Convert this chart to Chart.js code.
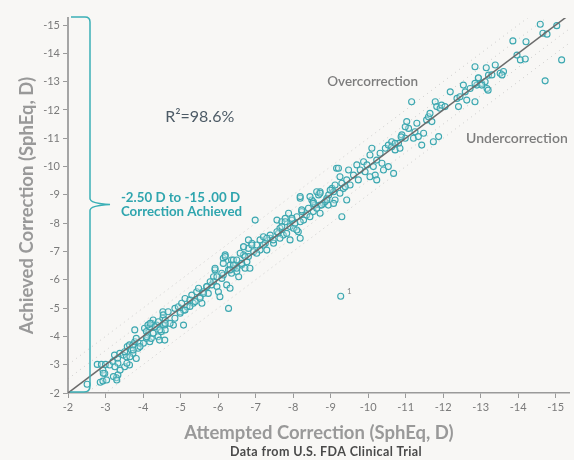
<!DOCTYPE html>
<html>
<head>
<meta charset="utf-8">
<script src="https://cdn.jsdelivr.net/npm/chart.js@4/dist/chart.umd.min.js"></script>
<style>
  html, body { margin: 0; padding: 0; background: #f8f7f5; }
  #wrap { width: 574px; height: 460px; position: relative; }
</style>
</head>
<body>
<div id="wrap"><canvas id="c" width="574" height="460"></canvas></div>
<script>
// ---- Data ----
const attempted = [
-2.51,-2.78,-2.89,-3.00,-2.93,-2.98,-2.86,-2.93,-3.33,-3.29,-3.11,-3.20,-3.32,-3.33,-3.24,-3.38,-3.47,-3.56,-3.51,-3.58,-3.64,-3.69,-3.73,-3.78,-3.82,-3.78,-3.73,-3.82,-3.64,-3.51,-3.87,-3.91,-4.04,-4.09,-4.13,-4.18,-4.09,-4.18,-4.22,-4.27,-4.13,-4.40,-4.44,-4.58,-4.49,-4.36,-4.58,-4.53,-4.53,
-4.23,-4.32,-4.27,-4.41,-4.54,-4.59,-4.67,-4.54,-4.81,-5.08,-4.59,-4.85,-4.94,-4.99,-5.03,-5.08,-5.12,-5.17,-5.25,-5.30,-5.34,-5.43,-5.48,-5.52,-5.57,-5.61,-5.70,-5.74,-5.83,-5.88,-5.92,-5.88,-5.97,-6.01,-6.05,-6.28,-6.10,-6.14,-6.23,-6.32,-6.28,-6.36,-6.41,-6.45,-6.50,-6.55,-6.63,-6.72,-6.77,-6.14,-6.19,-6.36,-6.68,-6.81,
-6.32,-6.41,-6.50,-6.63,-6.72,-6.68,-6.81,-6.90,-6.95,-6.99,-7.03,-7.12,-7.21,-7.26,-7.30,-7.39,-7.48,-7.57,-7.61,-7.65,-7.70,-7.74,-7.79,-7.88,-7.92,-7.97,-8.01,-8.05,-8.10,-8.14,-8.19,-8.23,-8.19,-8.28,-8.36,-8.41,-8.50,-8.54,-8.59,-8.68,-8.72,-8.72,-8.81,-8.90,-8.94,-6.85,
-8.45,-8.54,-8.63,-8.72,-8.95,-9.04,-9.08,-9.12,-9.16,-9.25,-9.30,-9.34,-9.43,-9.48,-9.52,-9.61,-9.70,-9.74,-9.79,-9.88,-9.92,-9.97,-10.05,-10.10,-10.14,-10.19,-10.23,-10.32,-10.37,-10.41,-10.46,-10.54,-10.63,-10.68,-10.72,-10.81,-10.85,-10.90,-10.99,-11.08,-10.54,-10.23,-10.05,-8.85,
-10.63,-10.72,-10.88,-10.99,-11.03,-11.16,-11.21,-11.25,-11.30,-11.34,-11.43,-11.48,-11.56,-11.61,-11.65,-11.70,-11.74,-11.79,-11.83,-11.88,-11.92,-11.96,-12.05,-12.19,-12.37,-12.41,-12.45,-12.54,-12.59,-12.63,-12.72,-12.85,-12.90,-12.94,-13.03,-13.12,-13.17,-13.21,-12.85,
-12.85,-12.94,-13.03,-13.15,-13.20,-13.30,-13.39,-13.52,-13.61,-13.57,-13.86,-13.97,-14.06,-14.19,-14.21,-14.59,-14.66,-14.77,-14.72,-15.16,-15.03,
-9.27,
-9.21,-9.12,-8.99,-9.25,-9.39,-9.43,-9.30,-9.08,-8.90,-8.72,-8.76,-8.63,-8.54,-8.45,-8.19,-8.23,-8.19,-8.10,-7.97,-7.92,-7.83,-7.79,-7.70,-7.57,-7.65,-7.47,-7.39,-7.30,-7.21,-7.12,-7.03,-6.90,-6.81,-6.68,-6.59,-6.50,-6.41,-6.32,-6.19,-6.14,-6.10,-5.97,-5.92,-5.79,-5.70,-5.61,-5.52,-5.39,-5.25,-5.12,-4.99,-4.85,-4.72,-4.59,-4.45,-4.27,-4.19,-4.10,-4.01,-3.92,-3.74,-3.65,-3.57,-3.39,-3.25,-3.21,-3.03,-2.94,-3.30
];
const achieved = [
-2.31,-3.01,-3.01,-3.01,-2.81,-2.69,-2.38,-2.42,-2.64,-2.54,-2.99,-3.11,-3.22,-3.05,-3.34,-3.40,-3.34,-3.28,-3.46,-3.64,-3.70,-3.52,-3.70,-3.81,-3.93,-4.23,-3.40,-3.22,-2.99,-2.93,-3.58,-3.76,-4.29,-4.17,-4.05,-4.34,-3.93,-3.81,-3.93,-4.11,-4.40,-3.99,-3.87,-3.87,-4.17,-4.40,-4.40,-4.64,-4.87,
-4.46,-4.34,-4.58,-4.52,-4.76,-4.58,-4.87,-4.40,-4.40,-4.40,-4.23,-4.99,-5.05,-4.87,-5.17,-4.93,-5.34,-5.05,-5.29,-5.46,-5.17,-5.58,-5.70,-5.40,-5.17,-5.58,-5.76,-5.52,-5.82,-6.11,-6.35,-5.93,-5.76,-5.58,-5.40,-4.99,-6.05,-6.17,-5.82,-5.70,-6.35,-6.23,-6.41,-6.52,-6.29,-6.11,-6.52,-6.41,-6.64,-6.76,-6.88,-6.70,-6.88,-6.82,
-6.52,-6.70,-6.41,-6.58,-6.82,-7.17,-7.11,-7.29,-6.99,-8.11,-7.23,-7.41,-7.52,-7.29,-7.05,-7.47,-7.29,-8.11,-7.64,-7.82,-8.05,-7.58,-8.17,-8.35,-7.88,-8.11,-7.82,-8.00,-8.23,-7.70,-7.47,-8.41,-8.88,-8.11,-8.29,-8.53,-8.82,-8.41,-8.64,-9.00,-9.11,-8.35,-8.70,-8.88,-8.64,-6.41,
-8.94,-8.76,-9.11,-8.64,-9.00,-9.23,-9.11,-8.82,-9.94,-9.64,-9.41,-9.23,-9.53,-9.88,-9.35,-9.70,-10.06,-9.53,-9.88,-10.17,-9.82,-10.06,-10.41,-10.65,-10.00,-9.70,-10.23,-10.47,-10.12,-9.88,-10.65,-10.76,-10.88,-9.76,-10.59,-10.82,-10.65,-11.12,-11.00,-11.35,-10.00,-9.53,-9.64,-8.76,
-10.70,-10.82,-11.05,-11.41,-11.59,-12.29,-11.00,-11.23,-11.53,-11.06,-10.76,-11.18,-11.65,-11.76,-11.88,-11.59,-10.88,-12.29,-12.12,-11.06,-12.06,-12.17,-12.12,-12.64,-12.41,-12.12,-12.47,-12.88,-12.64,-12.35,-12.76,-12.29,-12.88,-13.12,-12.94,-13.00,-12.76,-13.23,-13.53,
-12.94,-13.14,-12.88,-13.49,-12.70,-13.24,-13.59,-13.30,-13.36,-13.24,-14.44,-13.94,-13.77,-13.80,-14.41,-15.03,-14.71,-14.68,-13.03,-13.77,-14.98,
-5.42,
-9.94,-9.35,-9.17,-9.06,-9.29,-8.82,-8.23,-8.70,-8.82,-9.06,-8.64,-8.53,-8.70,-8.23,-8.94,-8.47,-8.05,-7.76,-8.17,-7.41,-7.64,-8.05,-7.88,-7.70,-7.47,-7.41,-7.58,-7.47,-7.23,-7.05,-6.94,-7.23,-7.41,-7.17,-6.94,-6.70,-6.52,-6.35,-6.82,-6.58,-6.23,-6.11,-6.41,-5.93,-5.76,-5.52,-5.35,-5.23,-5.06,-4.93,-4.82,-4.64,-4.46,-4.46,-4.23,-4.11,-4.46,-3.99,-3.76,-3.64,-3.52,-3.28,-3.05,-2.81,-2.93,-2.58,-2.46,-2.70,-2.46
];
const xTickValues = [-2,-3,-4,-5,-6,-7,-8,-9,-10,-11,-12,-13,-14,-15];
const yTickValues = [-2,-3,-4,-5,-6,-7,-8,-9,-10,-11,-12,-13,-14,-15];
const idealLine = [[-2,-2],[-15.6,-15.6]];          // attempted = achieved
const bandOffsets = [-1, -0.5, 0.5, 1];              // dotted guide lines (D)
const rSquaredText = 'R²=98.6%';

// ---- Build datasets ----
const points = attempted.map((x, i) => ({x, y: achieved[i]}));
const lineData = idealLine.map(p => ({x: p[0], y: p[1]}));
const bandSets = bandOffsets.map(o => ({
  type: 'line',
  data: idealLine.map(p => ({x: p[0], y: p[1] + o})),
  borderColor: 'rgba(150,150,150,0.45)',
  borderWidth: 1,
  borderDash: [1, 4],
  pointRadius: 0,
  fill: false,
  order: 3
}));

const FONT = 'Lato, "Open Sans", sans-serif';

const bgPlugin = {
  id: 'bg',
  beforeDraw(chart) {
    const ctx = chart.ctx;
    ctx.save();
    ctx.fillStyle = '#f8f7f5';
    ctx.fillRect(0, 0, chart.width, chart.height);
    ctx.restore();
  }
};

const annotPlugin = {
  id: 'annot',
  afterDraw(chart) {
    const ctx = chart.ctx;
    const xs = chart.scales.x, ys = chart.scales.y;
    const ca = chart.chartArea;
    const P = (x, y) => [xs.getPixelForValue(x), ys.getPixelForValue(y)];
    ctx.save();
    ctx.textBaseline = 'middle';
    ctx.textAlign = 'left';

    // R²
    let [px, py] = P(-4.59, -11.75);
    ctx.fillStyle = '#4d5b66';
    ctx.font = '16px ' + FONT;
    ctx.fillText(rSquaredText, px, py);

    // Over / Under correction
    ctx.fillStyle = '#7c7c7c';
    ctx.font = '600 13.5px ' + FONT;
    [px, py] = P(-8.91, -12.99);
    ctx.fillText('Overcorrection', px, py);
    ctx.font = '600 14px ' + FONT;
    [px, py] = P(-12.61, -10.98);
    ctx.fillText('Undercorrection', px, py);

    // Teal range label
    ctx.fillStyle = '#2fa5ae';
    ctx.font = 'bold 13.3px ' + FONT;
    [px, py] = P(-3.41, -8.89);
    ctx.fillText('-2.50 D to -15 .00 D', px, py);
    [px, py] = P(-3.41, -8.40);
    ctx.fillText('Correction Achieved', px, py);

    // footnote near outlier
    ctx.fillStyle = '#888';
    ctx.font = '8px ' + FONT;
    [px, py] = P(-9.44, -5.60);
    ctx.fillText('1', px, py);

    // subtitle
    ctx.fillStyle = '#4a4a4a';
    ctx.font = 'bold 12.5px ' + FONT;
    ctx.textAlign = 'center';
    ctx.letterSpacing = '0.4px';
    ctx.fillText('Data from U.S. FDA Clinical Trial', 326, 452);
    ctx.letterSpacing = '0px';

    // Bracket
    const L = ca.left, bx = ca.left + 22;
    const top = ca.top - 1, bot = ca.bottom - 1;
    const tipY = 204.5;
    ctx.strokeStyle = '#3bb0b6';
    ctx.lineWidth = 1.5;
    ctx.beginPath();
    ctx.moveTo(L + 3, top);
    ctx.lineTo(bx - 5, top);
    ctx.quadraticCurveTo(bx, top, bx, top + 5);
    ctx.lineTo(bx, tipY - 6);
    ctx.quadraticCurveTo(bx, tipY - 1, bx + 20, tipY);
    ctx.quadraticCurveTo(bx, tipY + 1, bx, tipY + 6);
    ctx.lineTo(bx, bot - 6);
    ctx.quadraticCurveTo(bx, bot, bx - 6, bot);
    ctx.lineTo(L + 2, bot);
    ctx.stroke();
    ctx.restore();
  }
};

new Chart(document.getElementById('c'), {
  type: 'scatter',
  data: {
    datasets: [
      {
        type: 'line',
        data: lineData,
        borderColor: '#6b6b6b',
        borderWidth: 1.5,
        pointRadius: 0,
        fill: false,
        order: 1
      },
      {
        data: points,
        pointRadius: 3,
        pointHoverRadius: 3,
        borderWidth: 1.1,
        borderColor: '#3ba7b0',
        backgroundColor: 'rgba(220,240,242,0.35)',
        order: 2
      },
      ...bandSets
    ]
  },
  options: {
    responsive: false,
    animation: false,
    events: [],
    layout: { padding: { top: 18, right: 4, left: 0, bottom: 0 } },
    plugins: { legend: { display: false }, tooltip: { enabled: false } },
    scales: {
      x: {
        type: 'linear',
        reverse: true,
        min: -15.38,
        max: -2,
        afterBuildTicks: s => { s.ticks = xTickValues.map(v => ({value: v})); },
        afterFit: s => { s.height = 67; },
        ticks: { color: '#7a7a7a', font: { size: 11, family: FONT }, padding: 3, callback: v => String(v) },
        grid: { drawOnChartArea: false, drawTicks: true, tickLength: 5, color: '#9a9a9a' },
        border: { color: '#9a9a9a', width: 1.5 },
        title: { display: true, text: 'Attempted Correction (SphEq, D)', color: '#999999',
                 font: { size: 18.5, family: FONT, weight: 'bold' }, padding: { top: 0, bottom: 16 } }
      },
      y: {
        type: 'linear',
        reverse: true,
        min: -15.25,
        max: -2,
        afterBuildTicks: s => { s.ticks = yTickValues.map(v => ({value: v})); },
        afterFit: s => { s.width = 68; },
        ticks: { color: '#7a7a7a', font: { size: 11, family: FONT }, padding: 3, callback: v => String(v) },
        grid: { drawOnChartArea: false, drawTicks: true, tickLength: 5, color: '#9a9a9a' },
        border: { color: '#a5a5a5', width: 2 },
        title: { display: true, text: 'Achieved Correction (SphEq, D)', color: '#999999',
                 font: { size: 18.5, family: FONT, weight: 'bold' }, padding: { top: 16, bottom: 0 } }
      }
    }
  },
  plugins: [bgPlugin, annotPlugin]
});
</script>
</body>
</html>
